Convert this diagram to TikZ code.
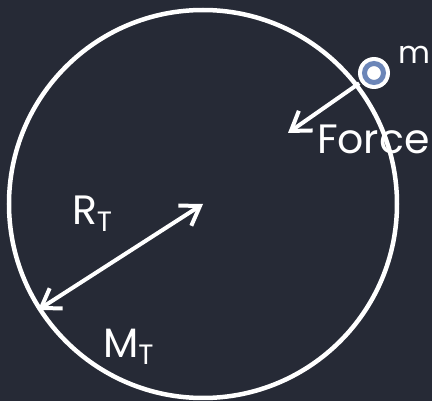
\documentclass[tikz,border=0pt]{standalone}
\usepackage{fontspec}
\setmainfont{Poppins}
\usetikzlibrary{arrows.meta,positioning}
\definecolor{board}{RGB}{38,42,54}
\definecolor{ringblue}{RGB}{108,134,184}
\newcommand{\subtxt}[1]{\raisebox{-7pt}{\fontsize{28}{28}\selectfont #1}}

\begin{document}
\begin{tikzpicture}[x=1pt,y=-1pt,>={Straight Barb[length=18pt,width=24pt]},line width=4pt,white]
 \fill[board] (0,0) rectangle (432,401);
 \useasboundingbox (0,0) rectangle (432,401);
 \tikzset{chalk/.style={font=\fontsize{41}{41}\selectfont,inner sep=0pt,anchor=base west}}
 % planet
 \coordinate (centre) at (203,204);
 \coordinate (rim) at (38,310);
 \draw[line width=4.5pt] (centre) circle[radius=194];
 % small mass
 \node[circle,fill=white,minimum size=32pt,inner sep=0pt] (mass) at (374,73) {};
 \draw[ringblue,line width=5pt] (mass.center) circle[radius=9.5];
 \node[chalk,font=\fontsize{31}{31}\selectfont] (mlabel) at (396,64) {m};
 % force
 \coordinate (forcetip) at (288,133);
 \draw[->] (mass) -- (forcetip);
 \node[chalk] (force) at (315,154) {Force};
 % radius and mass
 \draw[<->] (rim) -- (centre);
 \node[chalk] (radius) at (70,225) {R\subtxt{T}};
 \node[chalk] (planetmass) at (101,358) {M\subtxt{T}};
\end{tikzpicture}
\end{document}
